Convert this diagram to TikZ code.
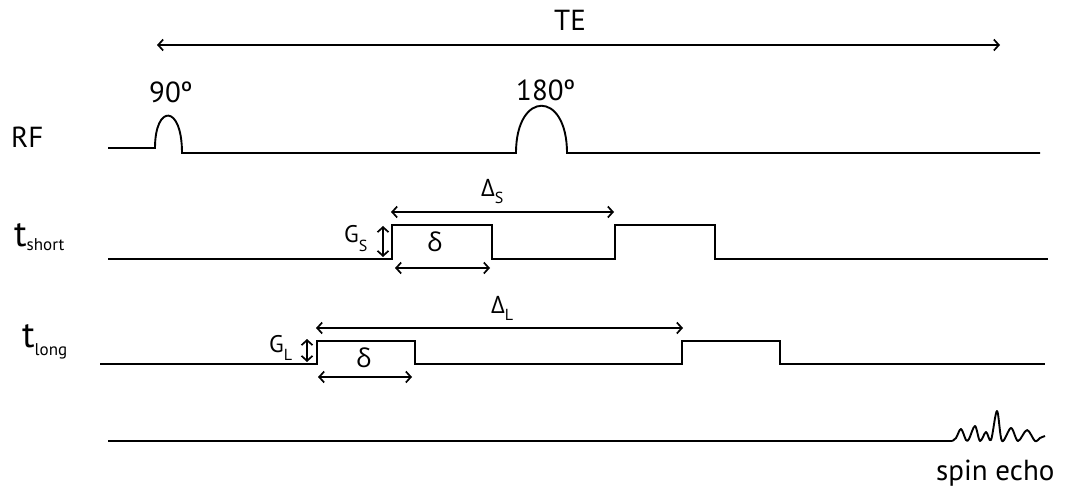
\documentclass[tikz,border=0pt]{standalone}
\usepackage{fontspec}
\setmainfont{PT Sans}
\newfontfamily\gr{Open Sans}
\usetikzlibrary{arrows.meta}
\newcommand{\bigf}{\fontsize{29}{32}\selectfont}
\newcommand{\tf}{\fontsize{37}{40}\selectfont}
\newcommand{\midf}{\fontsize{24}{28}\selectfont}
\newcommand{\delf}{\fontsize{26}{30}\selectfont}
\newcommand{\subf}{\fontsize{17}{19}\selectfont}
\newcommand{\ssub}{\fontsize{16}{18}\selectfont}
\begin{document}
\begin{tikzpicture}[x=1pt,y=-1pt,
  wave/.style={line width=1.9pt, line join=miter},
  dim/.style={line width=1.7pt, {Straight Barb[length=5pt,width=11pt]}-{Straight Barb[length=5pt,width=11pt]}},
  lbl/.style={inner sep=0pt, anchor=base west}]
\useasboundingbox (0,0) rectangle (1068,486);
% labels
\node[lbl] (te) at (554,31) {\bigf TE};
\node[lbl] (rf) at (11,148) {\bigf RF};
\node[lbl] (p90) at (149,103) {\bigf 90º};
\node[lbl] (p180) at (516,101) {\bigf 180º};
\node[lbl] (ts) at (14,247) {\tf t\raisebox{-4pt}{\subf short}};
\node[lbl] (tl) at (22,347) {\tf t\raisebox{-9pt}{\subf long}};
\node[lbl] (ds) at (481,197) {\midf{\gr Δ}\raisebox{-7pt}{\ssub S}};
\node[lbl] (dl) at (491,313) {\midf{\gr Δ}\raisebox{-7pt}{\ssub L}};
\node[lbl] (gs) at (344,243) {\midf G\raisebox{-9pt}{\ssub S}};
\node[lbl] (gl) at (269,352) {\midf G\raisebox{-9pt}{\ssub L}};
\node[lbl] (d1) at (427,252) {\delf\gr δ};
\node[lbl] (d2) at (356,367) {\delf\gr δ};
\node[lbl] (se) at (936,480) {\bigf spin echo};
% coordinates
\coordinate (teL) at (157,45); \coordinate (teR) at (1000,45);
\coordinate (dsL) at (391,212); \coordinate (dsR) at (614,212);
\coordinate (dlL) at (316,328); \coordinate (dlR) at (683,328);
\coordinate (gsT) at (383,226); \coordinate (gsB) at (383,257);
\coordinate (glT) at (307,339); \coordinate (glB) at (307,362);
\coordinate (d1L) at (395,268); \coordinate (d1R) at (490,268);
\coordinate (d2L) at (318,377); \coordinate (d2R) at (412,377);
% arrows
\draw[dim] (teL) -- (teR);
\draw[dim] (dsL) -- (dsR);
\draw[dim] (dlL) -- (dlR);
\draw[dim] (gsT) -- (gsB);
\draw[dim] (glT) -- (glB);
\draw[dim] (d1L) -- (d1R);
\draw[dim] (d2L) -- (d2R);
% RF waveform
\draw[wave] (108,148) -- (155,148) .. controls (155,104) and (182,104) .. (182,153)
  -- (516,153) .. controls (516,90) and (567,90) .. (567,153) -- (1040,153);
% t short
\draw[wave] (108,259) -- (392,259) -- (392,225) -- (492,225) -- (492,259)
  -- (615,259) -- (615,225) -- (715,225) -- (715,259) -- (1048,259);
% t long
\draw[wave] (100,364) -- (317,364) -- (317,341) -- (415,341) -- (415,364)
  -- (682,364) -- (682,341) -- (780,341) -- (780,364) -- (1045,364);
% signal
\draw[wave] (108,441) -- (952,441);
\draw[line width=1.9pt, line join=round] plot[smooth, tension=0.55] coordinates {(952,441) (956,438) (961,429) (966,440) (969,439) (975,426) (980,441) (986,432) (991,440) (997,411) (1002,441) (1011,428) (1018,441) (1027,430) (1035,441) (1040,438) (1045,436)};
\end{tikzpicture}
\end{document}
